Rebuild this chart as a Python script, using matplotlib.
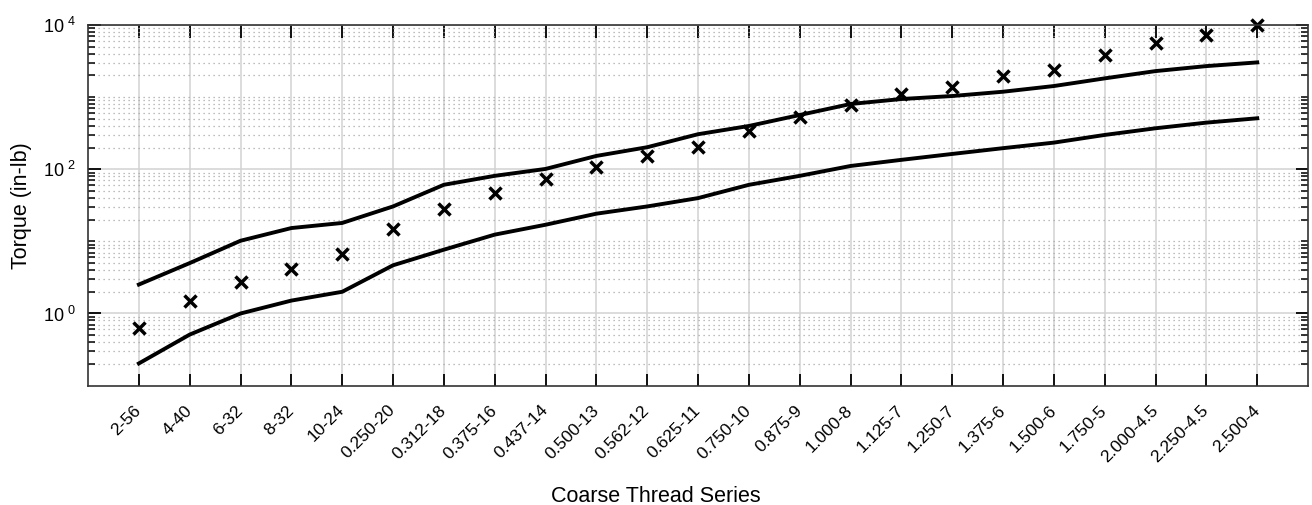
import numpy as np
import matplotlib
matplotlib.use("Agg")
from matplotlib import pyplot as plt
from matplotlib.ticker import FixedLocator, NullFormatter

# thread sizes on the x axis
threads = ["2-56", "4-40", "6-32", "8-32", "10-24", "0.250-20", "0.312-18",
           "0.375-16", "0.437-14", "0.500-13", "0.562-12", "0.625-11",
           "0.750-10", "0.875-9", "1.000-8", "1.125-7", "1.250-7", "1.375-6",
           "1.500-6", "1.750-5", "2.000-4.5", "2.250-4.5", "2.500-4"]

# measured torque (in-lb)
torque_meas = [0.62, 1.47, 2.77, 4.2, 6.7, 14.9, 28.2, 47, 73.5, 107, 151,
               203, 335, 528, 777, 1104, 1380, 1950, 2370, 3800, 5600, 7250,
               10000]

# upper / lower torque limits (in-lb)
torque_upper = [2.52, 5.0, 10.2, 15.3, 18.0, 30.5, 60.9, 81, 101, 153, 202,
                306, 398, 565, 803, 941, 1036, 1188, 1425, 1820, 2296, 2692,
                3030]
torque_lower = [0.203, 0.51, 1.0, 1.51, 2.0, 4.66, 7.67, 12.4, 17.0, 24.2,
                30.5, 39.8, 60.8, 81, 111, 135, 163, 196, 234, 299, 370, 443,
                509]

plt.rcParams['font.family'] = ['Liberation Sans', 'DejaVu Sans']
plt.rcParams['mathtext.fontset'] = 'custom'
plt.rcParams['mathtext.rm'] = 'Liberation Sans'
plt.rcParams['mathtext.default'] = 'rm'

x = np.arange(1, len(threads) + 1)

fig = plt.figure(figsize=(13.12, 5.05), dpi=100)
ax = fig.add_axes([0.0671, 0.2364, 0.9299, 0.7141])

ax.plot(x, torque_upper, color='black', lw=2.8, solid_joinstyle='round')
ax.plot(x, torque_lower, color='black', lw=2.8, solid_joinstyle='round')
ax.plot(x, torque_meas, 'x', color='black', ms=8.5, mew=2.5, ls='none',
        clip_on=False)

ax.set_yscale('log')
ax.set_ylim(0.1, 1e4)
ax.set_xlim(0, len(threads) + 1)

# y ticks: labels every second decade, minor ticks everywhere else
ax.yaxis.set_major_locator(FixedLocator([1, 1e2, 1e4]))
ax.set_yticklabels([r'$10^{\ 0}$', r'$10^{\ 2}$', r'$10^{\ 4}$'])
minor = [k * 10.0 ** d for d in range(-1, 4) for k in range(1, 10)]
minor = [m for m in minor if m not in (1, 1e2, 1e4) and m > 0.1]
ax.yaxis.set_minor_locator(FixedLocator(minor))
ax.yaxis.set_minor_formatter(NullFormatter())

ax.set_xticks(x)
ax.set_xticklabels(threads, rotation=45, ha='right', va='center',
                   rotation_mode='anchor')

ax.tick_params(axis='both', which='major', direction='in', length=9,
               width=1.3, top=True, right=True)
ax.tick_params(axis='x', which='major', labelsize=12.5, pad=16)
ax.tick_params(axis='y', which='major', labelsize=13, pad=9)
ax.tick_params(axis='y', which='minor', direction='in', length=5,
               width=1.1, right=True)
ax.tick_params(axis='x', which='minor', bottom=False, top=False)

ax.grid(True, which='major', color='#d2d2d2', lw=1.1, ls='-')
ax.grid(True, which='minor', axis='y', color='#a8a8a8', lw=0.9, ls=(0, (1, 3)))
ax.set_axisbelow(True)

for s in ax.spines.values():
    s.set_linewidth(1.2)
    s.set_color('#333333')

ax.set_xlabel('Coarse Thread Series', fontsize=15.5)
ax.xaxis.set_label_coords(0.465, -0.277)
ax.set_ylabel('Torque (in-lb)', fontsize=15.5, labelpad=8)

fig.savefig('out.png', dpi=100)
